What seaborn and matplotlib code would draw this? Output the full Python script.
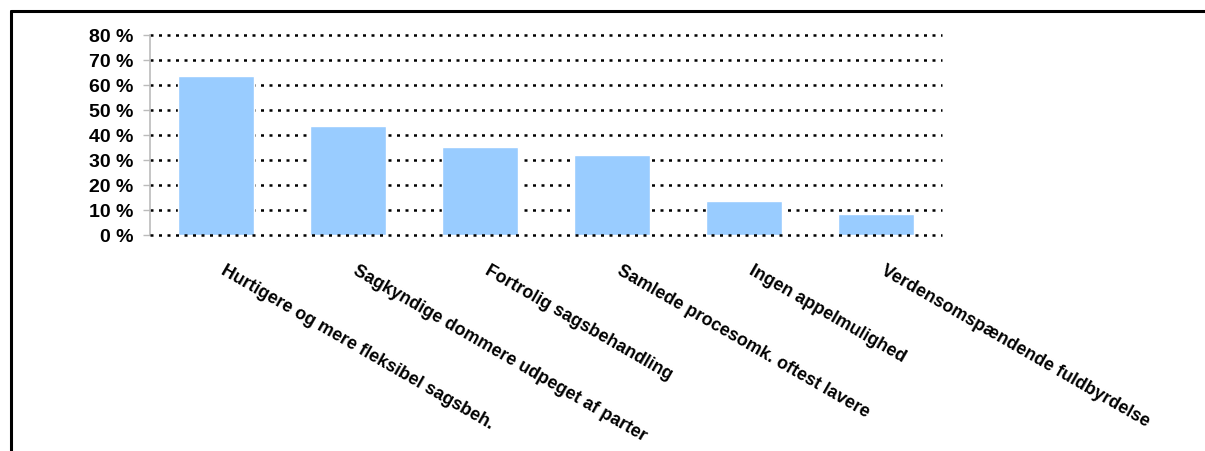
import matplotlib
matplotlib.use("Agg")
import matplotlib.pyplot as plt
import matplotlib.transforms as mtransforms
import seaborn as sns
import pandas as pd
from matplotlib.lines import Line2D

categories = [
    "Hurtigere og mere fleksibel sagsbeh.",
    "Sagkyndige dommere udpeget af parter",
    "Fortrolig sagsbehandling",
    "Samlede procesomk. oftest lavere",
    "Ingen appelmulighed",
    "Verdensomspændende fuldbyrdelse",
]
values = [63.5, 43.5, 35.1, 31.9, 13.5, 8.3]
y_ticks = [0, 10, 20, 30, 40, 50, 60, 70, 80]
y_tick_labels = ["0 %", "10 %", "20 %", "30 %", "40 %", "50 %", "60 %", "70 %", "80 %"]

sns.set_theme(style="white")
plt.rcParams['font.family'] = ['Liberation Sans', 'DejaVu Sans']
plt.rcParams['text.color'] = 'black'
plt.rcParams['xtick.color'] = 'black'
plt.rcParams['ytick.color'] = 'black'

W, H = 1205, 452
fig = plt.figure(figsize=(W / 100, H / 100), dpi=100)
ax = fig.add_axes([150 / W, 1 - 235.5 / H, (942 - 150) / W, 200 / H])

df = pd.DataFrame({"cat": categories, "val": values})
sns.barplot(data=df, x="cat", y="val", color="#99CCFF", saturation=1,
            width=0.576, ax=ax, zorder=2)

ax.set_ylim(0, 80)
ax.set_xlim(-0.5, len(categories) - 0.5)
ax.set_yticks(y_ticks)
ax.set_yticklabels(y_tick_labels, fontsize=14, fontweight="bold", color="black")
ax.set_xlabel("")
ax.set_ylabel("")

for t in y_ticks:
    ax.axhline(t, color="black", lw=1.8, linestyle=(0, (1.2, 2.2)),
               zorder=3 if t == 0 else 1, clip_on=False)

for s in ["top", "right", "bottom"]:
    ax.spines[s].set_visible(False)
ax.spines["left"].set_color("#BBBBBB")
ax.spines["left"].set_linewidth(1.2)
ax.tick_params(axis="y", which="major", left=True, length=5, width=1,
               color="#BBBBBB", labelcolor="black", pad=7)
ax.tick_params(axis="x", bottom=False, length=0)

ax.set_xticks(range(len(categories)))
ax.set_xticklabels(categories, rotation=-30, ha="left", rotation_mode="anchor",
                   fontsize=12.8, fontweight="bold", color="black")
offset = mtransforms.ScaledTranslation(10 / 100, -22 / 100, fig.dpi_scale_trans)
for lbl in ax.get_xticklabels():
    lbl.set_transform(lbl.get_transform() + offset)

# Frame: top and left lines
fig.add_artist(Line2D([11 / W, 1.0], [1 - 12 / H, 1 - 12 / H], color="black",
                      lw=2.2, transform=fig.transFigure))
fig.add_artist(Line2D([11 / W, 11 / W], [0, 1 - 12 / H], color="black",
                      lw=2.2, transform=fig.transFigure))

fig.savefig("out.png", dpi=100)
